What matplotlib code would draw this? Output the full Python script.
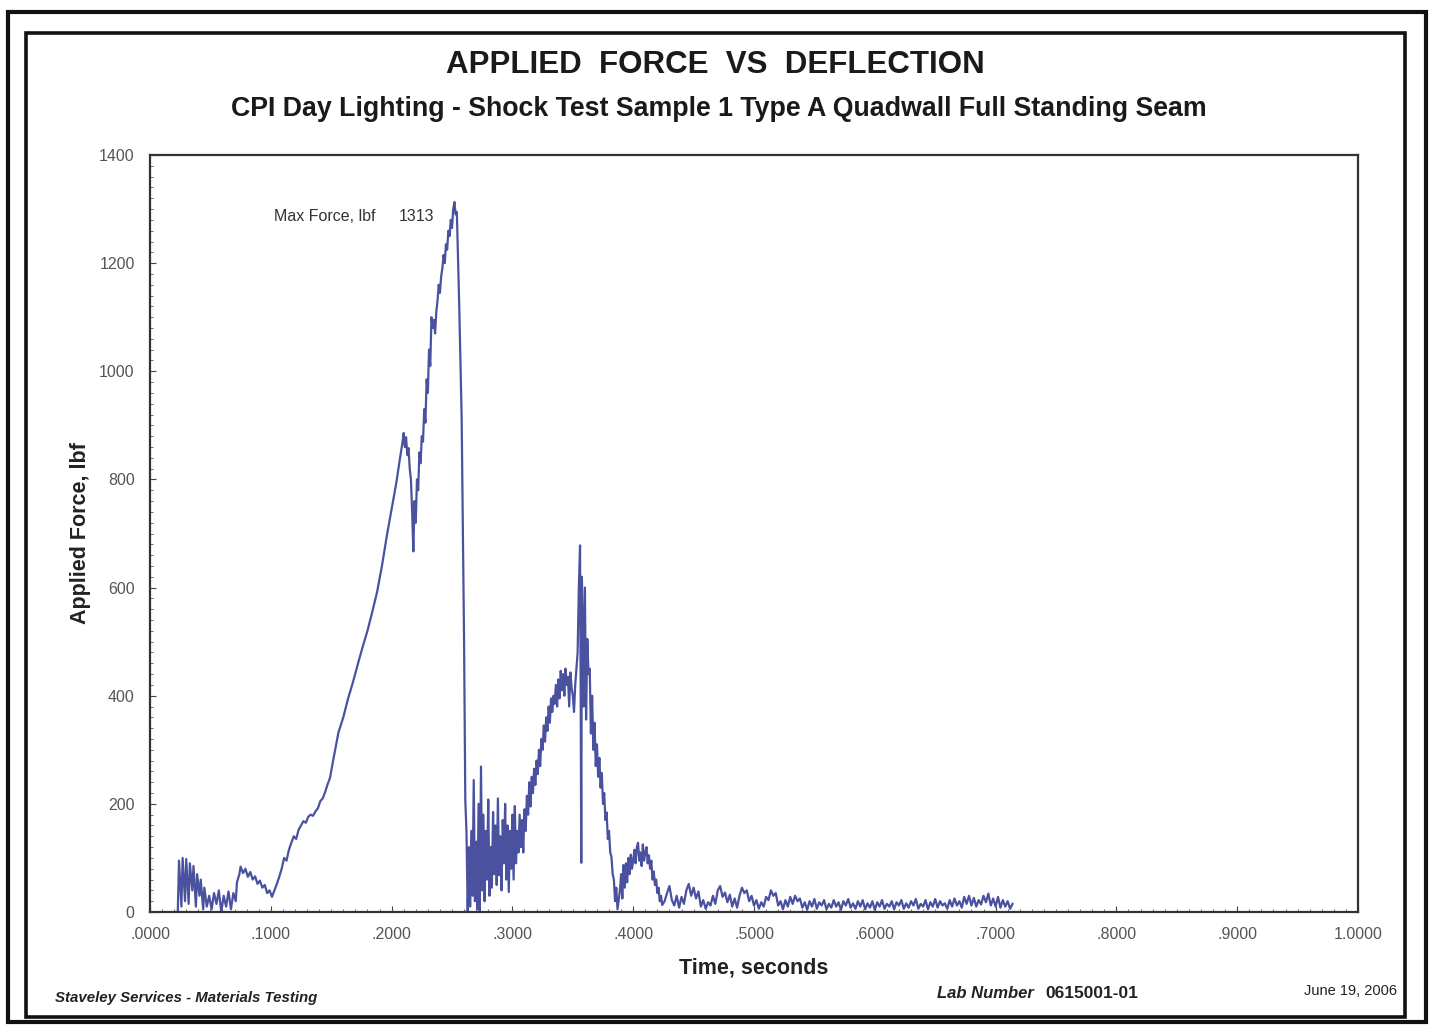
import matplotlib
matplotlib.use("Agg")
import matplotlib.pyplot as plt
from matplotlib.patches import Rectangle
from matplotlib.ticker import MultipleLocator

# ---- data (time in s, force in lbf) ----
t_start = [0.023, 0.024, 0.026, 0.027, 0.029, 0.030, 0.032, 0.033, 0.035, 0.036,
           0.038, 0.039, 0.041, 0.042, 0.044, 0.045,
           0.047, 0.049, 0.051, 0.053, 0.055, 0.057, 0.059, 0.061, 0.063, 0.065,
           0.067, 0.069, 0.071]
f_start = [0, 95, 10, 100, 20, 98, 15, 90, 40, 85,
           10, 70, 30, 60, 5, 45,
           10, 30, 5, 35, 15, 40, 0, 30, 10, 38,
           5, 35, 20]

t_bump = [0.072, 0.074, 0.075, 0.077, 0.079, 0.081, 0.083, 0.085, 0.087, 0.089,
          0.091, 0.093, 0.095, 0.097, 0.099, 0.101]
f_bump = [55, 70, 84, 72, 80, 65, 74, 60, 66, 52,
          58, 45, 50, 35, 40, 28]

t_rise = [0.103, 0.105, 0.107, 0.109, 0.111, 0.113, 0.115, 0.117, 0.119, 0.121,
          0.123, 0.125, 0.127, 0.129, 0.131, 0.133, 0.135, 0.137, 0.139, 0.141,
          0.143, 0.145, 0.147, 0.149,
          0.152, 0.156, 0.160, 0.164, 0.168, 0.172, 0.176, 0.180, 0.184, 0.188,
          0.192, 0.196, 0.200, 0.204, 0.207, 0.209, 0.210]
f_rise = [40, 52, 65, 80, 100, 95, 115, 128, 140, 135,
          152, 160, 168, 165, 176, 180, 178, 186, 192, 205,
          210, 222, 236, 248,
          285, 332, 360, 395, 425, 458, 490, 520, 555, 592,
          640, 695, 745, 795, 840, 868, 886]

t_peak = [0.211, 0.212, 0.213, 0.214, 0.215, 0.216, 0.217, 0.218, 0.219, 0.220,
          0.221, 0.222, 0.223, 0.224, 0.225, 0.226, 0.227, 0.228, 0.229,
          0.230, 0.231, 0.232, 0.233, 0.234, 0.235, 0.236, 0.237, 0.238, 0.239,
          0.240, 0.241, 0.242, 0.243, 0.244, 0.245, 0.246, 0.247, 0.248, 0.249,
          0.250, 0.251, 0.252, 0.253, 0.254, 0.256, 0.258, 0.260, 0.261, 0.262]
f_peak = [860, 878, 845, 858, 820, 800, 740, 667, 760, 720,
          800, 780, 850, 830, 880, 870, 930, 905, 985,
          960, 1040, 1010, 1100, 1080, 1095, 1070, 1110, 1130, 1160,
          1145, 1175, 1190, 1215, 1200, 1235, 1225, 1260, 1250, 1280,
          1265, 1300, 1313, 1290, 1295, 1120, 913, 500, 208, 147]

t_after = [0.263, 0.264, 0.265, 0.266, 0.267, 0.268, 0.269, 0.270, 0.271, 0.272,
           0.273, 0.274, 0.275, 0.276, 0.277, 0.278, 0.279, 0.280, 0.281, 0.282,
           0.283, 0.284, 0.285, 0.286, 0.287, 0.288, 0.289, 0.290, 0.291, 0.292,
           0.293, 0.294, 0.295, 0.296, 0.297, 0.298, 0.299, 0.300, 0.301, 0.302,
           0.303, 0.304, 0.305, 0.306]
f_after = [0, 120, 10, 150, 30, 244, 20, 130, 5, 200,
           0, 269, 40, 180, 20, 150, 60, 208, 30, 120,
           45, 185, 70, 160, 50, 210, 68, 140, 40, 170,
           90, 200, 60, 160, 37, 150, 80, 180, 60, 196,
           90, 150, 110, 180]

t_hump = [0.307, 0.308, 0.309, 0.310, 0.311, 0.312, 0.313, 0.314, 0.315, 0.316,
          0.317, 0.318, 0.319, 0.320, 0.321, 0.322, 0.323, 0.324, 0.325, 0.326,
          0.327, 0.328, 0.329, 0.330, 0.331, 0.332, 0.333, 0.334, 0.335, 0.336,
          0.337, 0.338, 0.339, 0.340, 0.341, 0.342, 0.343, 0.344, 0.345, 0.346,
          0.347, 0.348, 0.349, 0.350, 0.351, 0.352, 0.353]
f_hump = [120, 170, 110, 190, 150, 215, 180, 240, 195, 250,
          220, 265, 235, 280, 255, 300, 270, 320, 300, 345,
          315, 360, 335, 380, 350, 395, 370, 400, 385, 420,
          380, 430, 395, 446, 410, 440, 400, 450, 420, 435,
          380, 443, 415, 400, 370, 420, 450]

t_spike = [0.354, 0.355, 0.356, 0.3565, 0.357, 0.3575, 0.358, 0.359, 0.360, 0.361,
           0.362, 0.363, 0.364, 0.365, 0.366, 0.367, 0.368, 0.369, 0.370, 0.371,
           0.372, 0.373, 0.374, 0.375, 0.376, 0.377, 0.378, 0.379, 0.380, 0.381,
           0.382, 0.383, 0.384, 0.385, 0.386, 0.387]
f_spike = [480, 600, 678, 420, 91, 620, 560, 380, 600, 356,
           505, 440, 450, 330, 400, 300, 350, 270, 310, 250,
           285, 230, 257, 200, 220, 170, 184, 135, 150, 110,
           102, 70, 60, 20, 45, 5]

t_second = [0.389, 0.390, 0.391, 0.392, 0.393, 0.394, 0.395, 0.396, 0.397, 0.398,
            0.399, 0.400, 0.401, 0.402, 0.403, 0.404, 0.405, 0.406, 0.407, 0.408,
            0.409, 0.410, 0.411, 0.412, 0.413, 0.414, 0.415, 0.416, 0.417, 0.418,
            0.419, 0.420, 0.421, 0.422, 0.423, 0.424]
f_second = [40, 70, 25, 87, 45, 90, 55, 100, 70, 106,
            80, 95, 115, 90, 120, 128, 95, 110, 85, 125,
            95, 110, 120, 90, 105, 80, 95, 60, 75, 50,
            60, 35, 45, 20, 30, 13]

t_tail = [0.426, 0.428, 0.430, 0.432, 0.434, 0.436, 0.438, 0.440, 0.442, 0.444,
          0.446, 0.448, 0.450, 0.452, 0.454, 0.456, 0.458, 0.460, 0.462, 0.464,
          0.466, 0.468, 0.470, 0.472, 0.474, 0.476, 0.478, 0.480, 0.482, 0.484,
          0.486, 0.488, 0.490, 0.492, 0.494, 0.496, 0.498, 0.500, 0.502, 0.504,
          0.506, 0.508, 0.510, 0.512, 0.514, 0.516, 0.518, 0.520, 0.522, 0.524,
          0.526, 0.528, 0.530, 0.532, 0.534, 0.536, 0.538, 0.540, 0.542, 0.544,
          0.546, 0.548, 0.550, 0.552, 0.554, 0.556, 0.558, 0.560, 0.562, 0.564,
          0.566, 0.568, 0.570, 0.572, 0.574, 0.576, 0.578, 0.580, 0.582, 0.584,
          0.586, 0.588, 0.590, 0.592, 0.594, 0.596, 0.598, 0.600, 0.602, 0.604,
          0.606, 0.608, 0.610, 0.612, 0.614, 0.616, 0.618, 0.620, 0.622, 0.624,
          0.626, 0.628, 0.630, 0.632, 0.634, 0.636, 0.638, 0.640, 0.642, 0.644,
          0.646, 0.648, 0.650, 0.652, 0.654, 0.656, 0.658, 0.660, 0.662, 0.664,
          0.666, 0.668, 0.670, 0.672, 0.674, 0.676, 0.678, 0.680, 0.682, 0.684,
          0.686, 0.688, 0.690, 0.692, 0.694, 0.696, 0.698, 0.700, 0.702, 0.704,
          0.706, 0.708, 0.710, 0.712, 0.714]
f_tail = [20, 35, 48, 22, 12, 30, 8, 28, 15, 40,
          52, 30, 45, 25, 38, 10, 22, 6, 18, 12,
          30, 15, 40, 48, 28, 36, 18, 32, 10, 25,
          8, 30, 45, 35, 40, 20, 30, 12, 22, 6,
          18, 10, 28, 22, 40, 30, 35, 12, 20, 5,
          22, 10, 28, 15, 30, 20, 25, 8, 18, 4,
          20, 10, 24, 6, 18, 12, 22, 5, 15, 8,
          22, 10, 18, 4, 20, 12, 24, 8, 16, 6,
          20, 10, 22, 5, 16, 8, 20, 4, 18, 10,
          22, 6, 15, 10, 20, 5, 18, 12, 22, 6,
          16, 8, 20, 12, 24, 6, 15, 10, 22, 5,
          18, 10, 24, 8, 20, 12, 16, 6, 22, 10,
          25, 12, 20, 8, 28, 15, 30, 12, 26, 10,
          22, 14, 30, 18, 34, 12, 25, 10, 28, 8,
          22, 10, 20, 6, 15]

time_s = t_start + t_bump + t_rise + t_peak + t_after + t_hump + t_spike + t_second + t_tail
force = f_start + f_bump + f_rise + f_peak + f_after + f_hump + f_spike + f_second + f_tail

x_ticks = [0.0, 0.1, 0.2, 0.3, 0.4, 0.5, 0.6, 0.7, 0.8, 0.9, 1.0]
x_tick_labels = ['.0000', '.1000', '.2000', '.3000', '.4000', '.5000',
                 '.6000', '.7000', '.8000', '.9000', '1.0000']
y_ticks = [0, 200, 400, 600, 800, 1000, 1200, 1400]

max_force = 1313

# ---- figure ----
plt.rcParams['font.family'] = ['Liberation Sans', 'DejaVu Sans']
narrow = ['Liberation Sans Narrow', 'Liberation Sans', 'DejaVu Sans']

fig = plt.figure(figsize=(14.30, 10.26), dpi=100)
fig.patch.set_facecolor('white')

# page frames
fig.patches.append(Rectangle((8 / 1430, 1 - 1022 / 1026), 1418 / 1430, 1010 / 1026,
                             transform=fig.transFigure, fill=False,
                             edgecolor='#111111', linewidth=3.0))
fig.patches.append(Rectangle((26 / 1430, 1 - 1017 / 1026), 1379 / 1430, 984 / 1026,
                             transform=fig.transFigure, fill=False,
                             edgecolor='#111111', linewidth=2.6))

ax = fig.add_axes([150 / 1430, 1 - 912 / 1026, 1208 / 1430, 757 / 1026])
ax.plot(time_s, force, color='#4a52a0', linewidth=1.6)

ax.set_xlim(0, 1.0)
ax.set_ylim(0, 1400)
ax.set_xticks(x_ticks)
ax.set_xticklabels(x_tick_labels)
ax.set_yticks(y_ticks)
ax.xaxis.set_minor_locator(MultipleLocator(0.01))
ax.yaxis.set_minor_locator(MultipleLocator(20))
ax.tick_params(axis='both', which='major', direction='in', length=4,
               labelsize=11.5, labelcolor='#555555', color='#444444', pad=11)
ax.tick_params(axis='both', which='minor', direction='in', length=2.5, color='#555555')
ax.tick_params(axis='y', pad=11)
for s in ax.spines.values():
    s.set_color('#333333')
    s.set_linewidth(1.6)

ax.set_xlabel('Time, seconds', fontsize=15.5, fontweight='bold', family=narrow,
              color='#222222', labelpad=11)
ax.set_ylabel('Applied Force, lbf', fontsize=15.5, fontweight='bold', family=narrow,
              color='#222222', labelpad=6)

ax.text(0.187, 1287, 'Max Force, lbf', fontsize=11.5, color='#333333', ha='right', va='center')
ax.text(0.235, 1287, str(max_force), fontsize=11.5, color='#333333', ha='right', va='center')

fig.text(715 / 1430, 1 - 65 / 1026, 'APPLIED  FORCE  VS  DEFLECTION', ha='center', va='center',
         fontsize=22.5, fontweight='bold', family=narrow, color='#1a1a1a')
fig.text(719 / 1430, 1 - 109 / 1026,
         'CPI Day Lighting - Shock Test Sample 1 Type A Quadwall Full Standing Seam',
         ha='center', va='center', fontsize=19.3, fontweight='bold', family=narrow,
         color='#1a1a1a')

fig.text(55 / 1430, 1 - 998 / 1026, 'Staveley Services - Materials Testing', ha='left',
         va='center', fontsize=10.8, fontweight='bold', style='italic', family=narrow,
         color='#222222')
fig.text(937 / 1430, 1 - 994 / 1026, 'Lab Number', ha='left', va='center', fontsize=12,
         fontweight='bold', style='italic', family=narrow, color='#222222')
fig.text(1045 / 1430, 1 - 994 / 1026, '0615001-01', ha='left', va='center', fontsize=12.5,
         fontweight='bold', family=narrow, color='#222222')
fig.text(1397 / 1430, 1 - 991 / 1026, 'June 19, 2006', ha='right', va='center', fontsize=10.5,
         family=narrow, color='#222222')

fig.savefig('out.png', dpi=100, facecolor='white')
